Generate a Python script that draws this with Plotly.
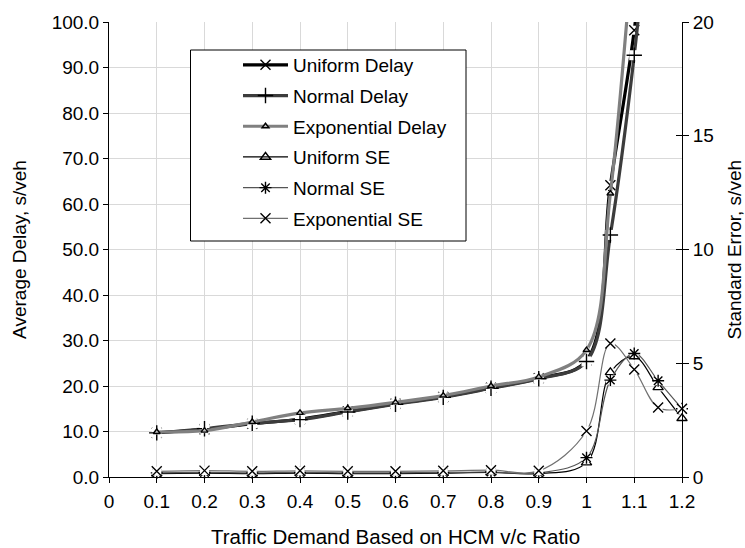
import plotly.graph_objects as go

# v/c ratio of each simulated demand level
vc_ratio = [0.1, 0.2, 0.3, 0.4, 0.5, 0.6, 0.7, 0.8, 0.9, 1.0, 1.05, 1.1, 1.15, 1.2]

# Average delay (s/veh) by arrival distribution; points past 1.1 run off the top of the scale
uniform_delay = [9.7, 10.5, 11.7, 12.7, 14.4, 16.1, 17.6, 19.6, 21.7, 25.6, 64.1, 98.2, 150.0, 200.0]
normal_delay = [9.7, 10.6, 11.8, 12.6, 14.3, 16.0, 17.5, 19.5, 21.6, 25.4, 53.2, 92.7, 145.0, 195.0]
exponential_delay = [9.9, 10.2, 12.1, 14.1, 15.1, 16.4, 17.9, 20.0, 22.0, 27.9, 62.3, 118.0, 165.0, 210.0]

# Standard error of the delay estimate (s/veh)
uniform_se = [0.15, 0.17, 0.15, 0.17, 0.15, 0.15, 0.17, 0.20, 0.15, 0.63, 4.60, 5.30, 3.94, 2.58]
normal_se = [0.18, 0.20, 0.18, 0.20, 0.18, 0.18, 0.20, 0.22, 0.18, 0.85, 4.26, 5.43, 4.23, 3.00]
exponential_se = [0.25, 0.28, 0.25, 0.27, 0.25, 0.25, 0.27, 0.30, 0.27, 2.02, 5.87, 4.73, 3.05, 3.00]

x_tickvals = [0, 0.1, 0.2, 0.3, 0.4, 0.5, 0.6, 0.7, 0.8, 0.9, 1.0, 1.1, 1.2]
x_ticktext = ["0", "0.1", "0.2", "0.3", "0.4", "0.5", "0.6", "0.7", "0.8", "0.9", "1", "1.1", "1.2"]
delay_ticks = [0, 10, 20, 30, 40, 50, 60, 70, 80, 90, 100]
se_ticks = [0, 5, 10, 15, 20]

FONT = "Liberation Sans, Arial, sans-serif"
FS = 19

series = [
    # name, values, axis, line colour, line width, marker symbol, marker size, marker fill
    ("Uniform Delay", uniform_delay, "y", "#000000", 3.2, "x-thin", 10, None),
    ("Normal Delay", normal_delay, "y", "#3c3c3c", 3.2, "cross-thin", 11, None),
    ("Exponential Delay", exponential_delay, "y", "#808080", 3.2, "triangle-up", 6, "#c0c0c0"),
    ("Uniform SE", uniform_se, "y2", "#000000", 1.2, "triangle-up-open", 9, None),
    ("Normal SE", normal_se, "y2", "#555555", 1.2, "asterisk-open", 10, None),
    ("Exponential SE", exponential_se, "y2", "#707070", 1.2, "x-thin", 10, None),
]

fig = go.Figure()
for i, (name, vals, axis, lcol, lw, sym, msize, mfill) in enumerate(series):
    group = f"g{i}"
    line = dict(color=lcol, width=lw, shape="spline", smoothing=1.0)
    marker = dict(symbol=sym, size=msize, color=mfill or "#000000",
                  line=dict(color="#000000", width=1.4))
    # legend entry
    fig.add_trace(go.Scatter(
        x=[None], y=[None], yaxis=axis, name=name, mode="lines+markers",
        line=line, marker=marker, legendgroup=group,
    ))
    # smoothed series line
    fig.add_trace(go.Scatter(
        x=vc_ratio, y=vals, yaxis=axis, mode="lines", line=line,
        legendgroup=group, showlegend=False, hoverinfo="skip",
    ))
    # white marker backing that breaks the line around each point
    fig.add_trace(go.Scatter(
        x=vc_ratio, y=vals, yaxis=axis, mode="markers", cliponaxis=False,
        marker=dict(symbol="square", size=msize - 1, color="white", line=dict(width=0)),
        legendgroup=group, showlegend=False, hoverinfo="skip",
    ))
    # point markers (points beyond the axis range stay hidden)
    fig.add_trace(go.Scatter(
        x=vc_ratio, y=vals, yaxis=axis, mode="markers", marker=marker, name=name,
        cliponaxis=False, legendgroup=group, showlegend=False,
    ))

# empty trace so the tick-only overlay axis gets drawn
fig.add_trace(go.Scatter(x=[None], y=[None], yaxis="y3", showlegend=False, hoverinfo="skip"))

L, R, T, B = 109, 63, 22, 71
W, H = 745, 548
pw, ph = W - L - R, H - T - B


def px_x(p):
    return (p - L) / pw


def px_y(p):
    return (H - B - p) / ph


fig.update_layout(
    width=W, height=H,
    margin=dict(l=L, r=R, t=T, b=B, autoexpand=False),
    paper_bgcolor="white", plot_bgcolor="white",
    font=dict(family=FONT, size=FS, color="#000000"),
    xaxis=dict(
        range=[0, 1.2], tickvals=x_tickvals, ticktext=x_ticktext,
        showgrid=True, gridcolor="#d9d9d9", gridwidth=1,
        showline=True, linecolor="#000000", linewidth=1,
        ticks="outside", ticklen=5, tickcolor="#000000", ticklabelstandoff=2,
        tickfont=dict(size=FS), zeroline=False,
        title=dict(text="Traffic Demand Based on HCM v/c Ratio", font=dict(size=20.5), standoff=19),
    ),
    yaxis=dict(
        range=[0, 100], tickvals=delay_ticks, tickformat=".1f",
        showgrid=True, gridcolor="#d9d9d9", gridwidth=1,
        showline=True, linecolor="#000000", linewidth=1,
        ticks="outside", ticklen=5, tickcolor="#000000",
        tickfont=dict(size=FS), zeroline=False,
        title=dict(text="Average Delay, s/veh", font=dict(size=FS), standoff=20),
    ),
    yaxis2=dict(
        range=[0, 20], tickvals=se_ticks, overlaying="y", side="right",
        showgrid=False, showline=True, linecolor="#000000", linewidth=1,
        ticks="outside", ticklen=6, tickcolor="#000000",
        tickfont=dict(size=FS), zeroline=False,
    ),
    # inner half of the crossing tick marks on the right axis
    yaxis3=dict(
        range=[0, 20], tickvals=se_ticks, overlaying="y", side="right",
        showgrid=False, showline=False, showticklabels=False, zeroline=False,
        ticks="inside", ticklen=6, tickcolor="#000000",
    ),
    legend=dict(
        x=px_x(238), y=px_y(46), xanchor="left", yanchor="top",
        bgcolor="rgba(0,0,0,0)", borderwidth=0,
        font=dict(size=FS), itemwidth=45, tracegroupgap=3,
        traceorder="grouped",
    ),
    shapes=[dict(
        type="rect", xref="paper", yref="paper",
        x0=px_x(190.5), x1=px_x(466), y0=px_y(241), y1=px_y(50),
        line=dict(color="#000000", width=1), fillcolor="white", layer="above",
    )],
    # right-hand axis title
    annotations=[dict(
        text="Standard Error, s/veh", textangle=-90, showarrow=False,
        xref="paper", yref="paper", x=px_x(734), y=0.5,
        xanchor="center", yanchor="middle", font=dict(size=FS),
    )],
)

fig.write_html("out.html")
